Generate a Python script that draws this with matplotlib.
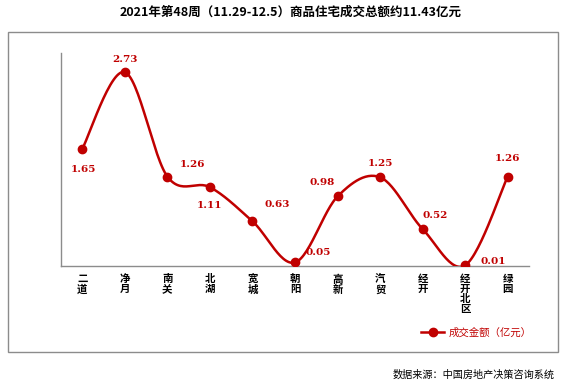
import matplotlib
matplotlib.use("Agg")
import matplotlib.pyplot as plt
from matplotlib.patches import Rectangle
import numpy as np

plt.rcParams['font.family'] = ['Noto Sans CJK SC', 'DejaVu Sans']

# --- данные ---
districts = ['二道', '净月', '南关', '北湖', '宽城', '朝阳', '高新', '汽贸', '经开', '经开北区', '绿园']
amounts = [1.65, 2.73, 1.26, 1.11, 0.63, 0.05, 0.98, 1.25, 0.52, 0.01, 1.26]
# смещения подписей (в пунктах)
label_offsets = [(1, -15), (0, 9), (18, 9), (0, -13), (18, 12), (17, 7),
                 (-11, 10), (0, 10), (9, 10), (20, 3), (0, 13)]

title = '2021年第48周（11.29-12.5）商品住宅成交总额约11.43亿元'
legend_label = '成交金额（亿元）'
source = '数据来源：中国房地产决策咨询系统'

red = '#C00000'
W, H = 580, 383


def smooth_curve(x, y, steps=30):
    # сглаживание Catmull-Rom (как в Excel "сглаженная линия")
    pts = np.column_stack([x, y]).astype(float)
    P = np.vstack([pts[0], pts, pts[-1]])
    out = []
    for i in range(1, len(P) - 2):
        p0, p1, p2, p3 = P[i - 1], P[i], P[i + 1], P[i + 2]
        t = np.linspace(0, 1, steps)[:, None]
        seg = 0.5 * ((2 * p1) + (-p0 + p2) * t + (2 * p0 - 5 * p1 + 4 * p2 - p3) * t ** 2
                     + (-p0 + 3 * p1 - 3 * p2 + p3) * t ** 3)
        out.append(seg)
    out = np.vstack(out)
    return out[:, 0], out[:, 1]


fig = plt.figure(figsize=(W / 100, H / 100), dpi=100)
fig.patch.set_facecolor('white')

# рамка
fig.patches.append(Rectangle((8 / W, 1 - 352 / H), 550 / W, 320 / H, transform=fig.transFigure,
                             fill=False, edgecolor='#8c8c8c', linewidth=1.0))

ax = fig.add_axes([61 / W, 1 - 266 / H, (529 - 61) / W, (266 - 53) / H])
x = np.arange(len(districts))
sx, sy = smooth_curve(x, amounts)
ax.plot(sx, sy, color=red, linewidth=1.8, zorder=3)
ax.plot(x, amounts, 'o', color=red, markersize=6, zorder=4)

for xi, v, (dx, dy) in zip(x, amounts, label_offsets):
    ax.annotate(f'{v:.2f}', (xi, v), xytext=(dx, dy), textcoords='offset points',
                ha='center', va='center', color=red, fontsize=7.5, fontweight='bold',
                family='DejaVu Serif')

ax.set_xlim(-0.5, len(districts) - 0.5)
ax.set_ylim(0, 3)
ax.set_yticks([])
ax.set_xticks(x)
ax.set_xticklabels(['\n'.join(d) for d in districts], fontsize=7.5, fontweight='bold',
                   linespacing=1.0, va='top')
ax.tick_params(axis='x', length=0, pad=6)
for s in ['top', 'right']:
    ax.spines[s].set_visible(False)
for s in ['left', 'bottom']:
    ax.spines[s].set_color('#8c8c8c')
    ax.spines[s].set_linewidth(1.0)
ax.set_facecolor('none')

leg = fig.legend([plt.Line2D([], [], color=red, marker='o', markersize=6, linewidth=1.8)],
                 [legend_label], loc='center left', bbox_to_anchor=(412 / W, 1 - 333 / H),
                 frameon=False, fontsize=7.5, handlelength=2.2, handletextpad=0.4)
for t in leg.get_texts():
    t.set_color(red)

fig.text(291 / W, 1 - 12 / H, title, ha='center', va='center', fontsize=9, fontweight='bold')
fig.text(555 / W, 1 - 375 / H, source, ha='right', va='center', fontsize=7.3)

fig.savefig('out.png', dpi=100)
